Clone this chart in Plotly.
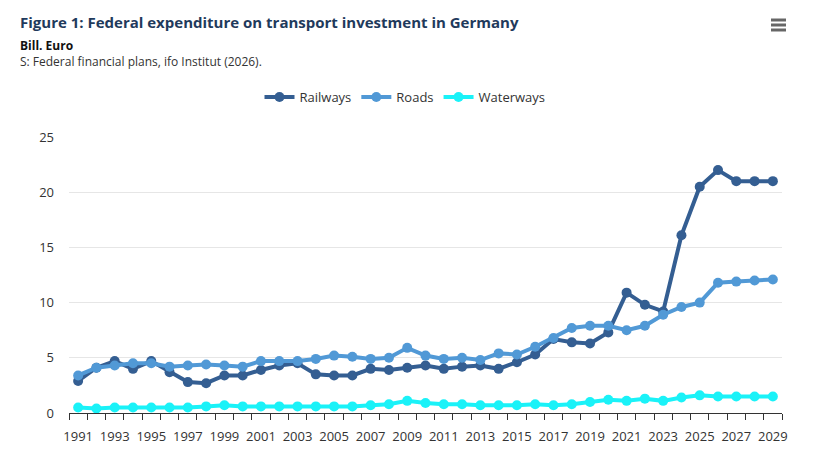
import plotly.graph_objects as go

# data (bill. euro)
years = list(range(1991, 2030))
railways = [2.9, 4.1, 4.7, 4.0, 4.7, 3.7, 2.8, 2.7, 3.4, 3.4,
            3.9, 4.3, 4.5, 3.5, 3.4, 3.4, 4.0, 3.9, 4.1, 4.3,
            4.0, 4.2, 4.3, 4.0, 4.6, 5.3, 6.7, 6.4, 6.3, 7.3,
            10.9, 9.8, 9.2, 16.1, 20.5, 22.0, 21.0, 21.0, 21.0]
roads = [3.4, 4.1, 4.3, 4.5, 4.5, 4.2, 4.3, 4.4, 4.3, 4.2,
         4.7, 4.7, 4.7, 4.9, 5.2, 5.1, 4.9, 5.0, 5.9, 5.2,
         4.9, 5.0, 4.8, 5.4, 5.3, 6.0, 6.8, 7.7, 7.9, 7.9,
         7.5, 7.9, 8.9, 9.6, 10.0, 11.8, 11.9, 12.0, 12.1]
waterways = [0.5, 0.4, 0.5, 0.5, 0.5, 0.5, 0.5, 0.6, 0.7, 0.6,
             0.6, 0.6, 0.6, 0.6, 0.6, 0.6, 0.7, 0.8, 1.1, 0.9,
             0.8, 0.8, 0.7, 0.7, 0.7, 0.8, 0.7, 0.8, 1.0, 1.2,
             1.1, 1.3, 1.1, 1.4, 1.6, 1.5, 1.5, 1.5, 1.5]
label_years = list(range(1991, 2030, 2))

font = "Open Sans, Noto Sans, sans-serif"

# plot area in figure pixels (page adds 8px body margin)
L, R, T, B = 61, 51, 129, 45
W, H = 825, 450
pw, ph = W - L - R, H - T - B
bottom = H - B

def px_x(x):
    return (x - L) / pw

def px_y(y):
    return (bottom - y) / ph

fig = go.Figure()
# waterways sits on the label axis (x2, same range) so that axis gets drawn
series = [("Railways", railways, "#345e92", "x"),
          ("Roads", roads, "#5199d6", "x"),
          ("Waterways", waterways, "#1af2f8", "x2")]
for name, vals, col, xa in series:
    fig.add_trace(go.Scatter(x=years, y=vals, name=name, mode="lines+markers",
                             xaxis=xa, yaxis="y",
                             line=dict(color=col, width=4),
                             marker=dict(color=col, size=10)))

fig.update_layout(
    width=W, height=H,
    margin=dict(l=L, r=R, t=T, b=B, autoexpand=False),
    paper_bgcolor="white", plot_bgcolor="white",
    font=dict(family=font, size=13, color="#333333"),
    showlegend=True,
    legend=dict(orientation="h", x=px_x(397), xanchor="center", y=px_y(89), yanchor="middle",
                font=dict(size=13, color="#333333"), traceorder="normal"),
    hovermode="x unified",
    # tick marks between the years, no labels
    xaxis=dict(range=[1990.5, 2029.5], tickmode="linear", tick0=1990.5, dtick=1,
               ticks="outside", ticklen=6, tickcolor="#333333", showticklabels=False,
               showgrid=False, showline=True, linecolor="#333333", linewidth=1),
    # labels every second year
    xaxis2=dict(overlaying="x", matches="x", anchor="y", side="bottom",
                tickvals=label_years, ticktext=[str(y) for y in label_years],
                ticks="", ticklabelstandoff=14, showgrid=False, showline=False,
                zeroline=False, tickfont=dict(size=13, color="#333333")),
    yaxis=dict(range=[0, 25], dtick=5, showgrid=True, gridcolor="#e6e6e6",
               zeroline=False, showline=False, ticks="", ticklabelstandoff=14,
               tickfont=dict(size=13, color="#333333")),
)

fig.add_annotation(text="<b>Figure 1: Federal expenditure on transport investment in Germany</b>",
                   xref="paper", yref="paper", x=px_x(10), y=px_y(14),
                   xanchor="left", yanchor="middle", showarrow=False,
                   font=dict(size=15, color="#1f3a5c", family=font))
fig.add_annotation(text="<b>Bill. Euro</b>",
                   xref="paper", yref="paper", x=px_x(10), y=px_y(37),
                   xanchor="left", yanchor="middle", showarrow=False,
                   font=dict(size=12, color="#111111", family=font))
fig.add_annotation(text="S: Federal financial plans, ifo Institut (2026).",
                   xref="paper", yref="paper", x=px_x(10), y=px_y(53),
                   xanchor="left", yanchor="middle", showarrow=False,
                   font=dict(size=12, color="#333333", family=font))

# menu icon
for py in (12, 17, 22):
    fig.add_shape(type="line", xref="paper", yref="paper",
                  x0=px_x(763), x1=px_x(778), y0=px_y(py), y1=px_y(py),
                  line=dict(color="#666666", width=3))

fig.write_html("out.html")
